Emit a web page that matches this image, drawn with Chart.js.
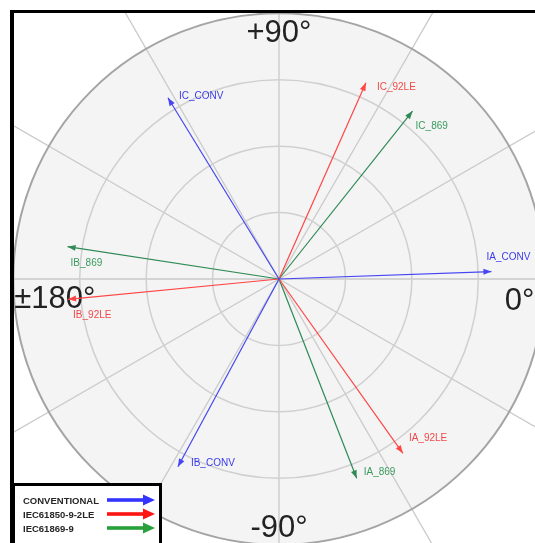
<!DOCTYPE html>
<html>
<head>
<meta charset="utf-8">
<title>Phasor diagram</title>
<script src="https://cdn.jsdelivr.net/npm/chart.js@4.4.1/dist/chart.umd.min.js"></script>
<style>
  html, body { margin: 0; padding: 0; background: #ffffff; overflow: hidden; }
  #wrap { position: absolute; left: 0; top: 0; width: 558px; height: 558px; }
</style>
</head>
<body>
<div id="wrap"><canvas id="phasors" width="558" height="558"></canvas></div>
<script>
// ---- data ----
const phaseNames   = ['IA', 'IB', 'IC'];
const seriesNames  = ['CONVENTIONAL', 'IEC61850-9-2LE', 'IEC61869-9'];
const seriesTags   = ['CONV', '92LE', '869'];

// magnitude (ring units) and angle (degrees) per phase A, B, C
const convMag      = [3.20, 3.21, 3.20];
const convAngle    = [2.0, -118.3, 121.5];
const le92Mag      = [3.22, 3.19, 3.23];
const le92Angle    = [-54.6, -174.5, 66.1];
const iec869Mag    = [3.22, 3.22, 3.23];
const iec869Angle  = [-68.7, 171.3, 51.5];

const ringValues   = [1, 2, 3, 4];
const spokeAngles  = [0, 30, 60, 90, 120, 150, 180, 210, 240, 270, 300, 330];
const axisLabels   = ['0°', '+90°', '±180°', '-90°'];

// ---- styles ----
const lineColors   = ['#4646f2', '#ff4646', '#2f8a55'];
const textColors   = ['#3a3aea', '#f04848', '#3a9a5e'];
const legendColors = ['#3434ff', '#ff1414', '#28a03c'];
// label offsets from each arrow tip: [dx, dy] per series, per phase
const labelOffsets = [
  [[-5, -15], [13, -4], [11, -2]],
  [[6, -16], [5, 15], [11, 4]],
  [[7, -7], [3, 16], [3, 15]]
];

const mags   = [convMag, le92Mag, iec869Mag];
const angles = [convAngle, le92Angle, iec869Angle];
const rad = d => d * Math.PI / 180;

const datasets = [];
seriesTags.forEach((tag, s) => {
  phaseNames.forEach((ph, p) => {
    const m = mags[s][p], a = angles[s][p];
    datasets.push({
      label: ph + '_' + tag,
      series: s,
      phase: p,
      data: [{ x: 0, y: 0 }, { x: m * Math.cos(rad(a)), y: m * Math.sin(rad(a)) }],
      showLine: true,
      borderColor: lineColors[s],
      borderWidth: 1.2,
      pointRadius: 0,
      pointHoverRadius: 0
    });
  });
});

const FRAME = { left: 10, top: 10, width: 4, height: 3 };

function geom(chart) {
  const xs = chart.scales.x, ys = chart.scales.y;
  const cx = xs.getPixelForValue(0), cy = ys.getPixelForValue(0);
  const r = v => xs.getPixelForValue(v) - cx;
  return { cx, cy, r };
}

const polarGrid = {
  id: 'polarGrid',
  beforeDatasetsDraw(chart) {
    const ctx = chart.ctx;
    const { cx, cy, r } = geom(chart);
    const outer = r(ringValues[ringValues.length - 1]);
    ctx.save();
    ctx.beginPath();
    ctx.rect(FRAME.left + FRAME.width, FRAME.top + FRAME.height, chart.width, chart.height);
    ctx.clip();

    // disc
    ctx.beginPath();
    ctx.arc(cx, cy, outer, 0, Math.PI * 2);
    ctx.fillStyle = '#f4f4f4';
    ctx.fill();

    // angle spokes
    ctx.strokeStyle = '#cacaca';
    ctx.lineWidth = 1.3;
    spokeAngles.forEach(a => {
      ctx.beginPath();
      ctx.moveTo(cx, cy);
      ctx.lineTo(cx + Math.cos(rad(a)) * outer * 1.6, cy - Math.sin(rad(a)) * outer * 1.6);
      ctx.stroke();
    });

    // rings
    ringValues.forEach((v, i) => {
      const last = i === ringValues.length - 1;
      ctx.beginPath();
      ctx.arc(cx, cy, r(v), 0, Math.PI * 2);
      ctx.strokeStyle = last ? '#a4a4a4' : '#d0d0d0';
      ctx.lineWidth = last ? 2 : 1.5;
      ctx.stroke();
    });

    // angle labels
    ctx.fillStyle = '#222222';
    ctx.font = '31px "Liberation Sans", Arial, sans-serif';
    ctx.textBaseline = 'alphabetic';
    ctx.textAlign = 'left';
    ctx.fillText(axisLabels[0], cx + outer - 40, cy + 31);
    ctx.fillText(axisLabels[2], cx - outer + 1, cy + 29);
    ctx.textAlign = 'center';
    ctx.fillText(axisLabels[1], cx, cy - outer + 29);
    ctx.fillText(axisLabels[3], cx, cy + outer - 8);
    ctx.restore();
  },
  afterDatasetsDraw(chart) {
    const ctx = chart.ctx;
    const { cx, cy } = geom(chart);
    ctx.save();
    chart.data.datasets.forEach((ds, i) => {
      const meta = chart.getDatasetMeta(i);
      const tip = meta.data[1];
      const dx = tip.x - cx, dy = tip.y - cy;
      const len = Math.hypot(dx, dy);
      const ux = dx / len, uy = dy / len;
      const hl = 8, hw = 3;
      ctx.beginPath();
      ctx.moveTo(tip.x, tip.y);
      ctx.lineTo(tip.x - ux * hl - uy * hw, tip.y - uy * hl + ux * hw);
      ctx.lineTo(tip.x - ux * hl + uy * hw, tip.y - uy * hl - ux * hw);
      ctx.closePath();
      ctx.fillStyle = lineColors[ds.series];
      ctx.fill();

      const off = labelOffsets[ds.series][ds.phase];
      ctx.font = '10px "Liberation Sans", Arial, sans-serif';
      ctx.fillStyle = textColors[ds.series];
      ctx.textAlign = 'left';
      ctx.textBaseline = 'middle';
      ctx.fillText(ds.label, tip.x + off[0], tip.y + off[1] + 0.5);
    });

    // legend box
    const lx = 13.5, ly = 484.5;
    ctx.fillStyle = '#ffffff';
    ctx.fillRect(lx, ly, 147, 80);
    ctx.strokeStyle = '#000000';
    ctx.lineWidth = 3;
    ctx.strokeRect(lx, ly, 147, 80);
    seriesNames.forEach((name, s) => {
      const y = 500 + s * 14;
      ctx.font = 'bold 9.5px "Liberation Sans", Arial, sans-serif';
      ctx.fillStyle = '#262626';
      ctx.textAlign = 'left';
      ctx.textBaseline = 'alphabetic';
      ctx.fillText(name, 23, y + 3.5);
      ctx.fillStyle = legendColors[s];
      ctx.fillRect(107, y - 1.8, 37, 3.6);
      ctx.beginPath();
      ctx.moveTo(155, y);
      ctx.lineTo(143, y - 5.5);
      ctx.lineTo(143, y + 5.5);
      ctx.closePath();
      ctx.fill();
    });

    // outer frame
    ctx.fillStyle = '#000000';
    ctx.fillRect(FRAME.left, FRAME.top, chart.width, FRAME.height);
    ctx.fillRect(FRAME.left, FRAME.top, FRAME.width, chart.height);
    ctx.restore();
  }
};

new Chart(document.getElementById('phasors'), {
  type: 'scatter',
  data: { datasets },
  options: {
    responsive: false,
    animation: false,
    layout: { padding: 0 },
    plugins: { legend: { display: false }, tooltip: { enabled: false } },
    events: [],
    scales: {
      x: { type: 'linear', min: -4.2, max: 4.2, display: false },
      y: { type: 'linear', min: -4.2, max: 4.2, display: false }
    }
  },
  plugins: [polarGrid]
});
</script>
</body>
</html>
